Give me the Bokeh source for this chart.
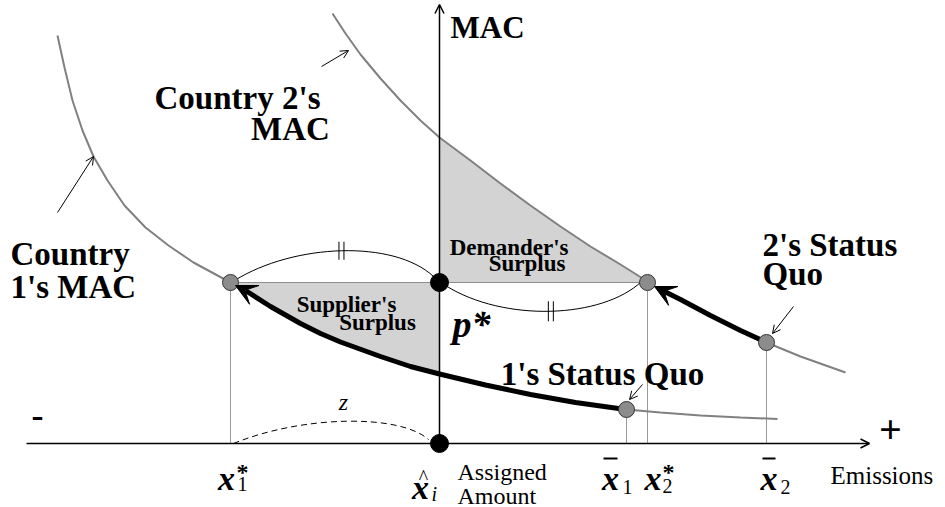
import numpy as np
from bokeh.plotting import figure
from bokeh.models import Range1d, Arrow, VeeHead, OpenHead
from bokeh.embed import file_html
from bokeh.resources import INLINE
from bokeh.core.properties import value

# ---- Key positions on the emissions axis (origin = assigned amount) and price ----
x1_star = -209
x_hat = 0
x1_bar = 187
x2_star = 208
x2_bar = 327
p_star = 161
mac1_at_x1_bar = 34
mac2_at_x2_bar = 101

# ---- Country 1's MAC ----
mac1_upper_x = [-382, -375, -367, -357, -346, -332, -315, -294, -271, -246, -209]
mac1_upper_y = [408, 376, 343, 313, 287, 263, 238, 216, 198, 181, 161]
mac1_lower_x = [187, 221, 261, 301, 338]
mac1_lower_y = [34, 31, 28, 26, 24.5]
# thick move from 1's status quo to x1*
path1_x = [187, 179, 136, 91, 46, 0, -29, -59, -99, -119, -139, -169, -194]
path1_y = [34, 35, 41, 49, 58.5, 69.5, 77, 87, 101.5, 110, 120, 137, 153]
tip1 = (-204, 158)

# ---- Country 2's MAC ----
mac2_upper_x = [-107, -94, -79, -59, -39, -19, 0, 31, 61, 91, 121, 151, 181, 208]
mac2_upper_y = [430, 410, 389, 365, 343, 323, 306, 283, 260, 238, 217, 197, 179, 162]
mac2_lower_x = [327, 361, 406]
mac2_lower_y = [101, 87, 71]
path2_x = [327, 301, 271, 241, 223]
path2_y = [101, 113, 128, 144, 153]
tip2 = (215, 157)

FONT = "Liberation Serif"
GREY = "#808080"
SHADE = "#d3d3d3"

p = figure(width=945, height=507, x_range=Range1d(-439, 506), y_range=Range1d(-64, 443),
           output_backend="svg", toolbar_location=None, min_border=0,
           x_axis_type=None, y_axis_type=None)
p.grid.visible = False
p.outline_line_color = None
p.background_fill_color = "white"

# ---- shaded surpluses ----
dm = [i for i, x in enumerate(mac2_upper_x) if x_hat <= x <= x2_star]
dem_x = [x_hat] + [mac2_upper_x[i] for i in dm] + [x2_star]
dem_y = [p_star] + [mac2_upper_y[i] for i in dm] + [p_star]
p.patch(dem_x, dem_y, fill_color=SHADE, line_color=None)

sp = [i for i, x in enumerate(path1_x) if x <= x_hat]
sup_x = [x1_star, x_hat] + [path1_x[i] for i in sp] + [tip1[0]]
sup_y = [p_star, p_star] + [path1_y[i] for i in sp] + [tip1[1]]
p.patch(sup_x, sup_y, fill_color=SHADE, line_color=None)

# ---- dotted guides ----
dot = dict(line_color="#333333", line_width=1, line_dash="1 1")
p.line([x1_star, x2_star], [p_star, p_star], **dot)
for xv, yv in [(x1_star, p_star), (x1_bar, mac1_at_x1_bar), (x2_star, p_star), (x2_bar, mac2_at_x2_bar)]:
    p.line([xv, xv], [0, yv], **dot)

# ---- MAC curves ----
p.line(mac1_upper_x, mac1_upper_y, line_color=GREY, line_width=2)
p.line(mac1_lower_x, mac1_lower_y, line_color=GREY, line_width=2)
p.line(mac2_upper_x, mac2_upper_y, line_color=GREY, line_width=2)
p.line(mac2_lower_x, mac2_lower_y, line_color=GREY, line_width=2)

# ---- equal-distance arcs ----
def cubic(x0, y0, x1, y1, h, a=0.3, b=0.8):
    w = x1 - x0
    p.bezier(x0=[x0], y0=[y0], x1=[x1], y1=[y1], cx0=[x0 + a * w], cy0=[y0 + h],
             cx1=[x0 + b * w], cy1=[y1 + h], line_color="black", line_width=1)
    mx = (x0 + 3 * (x0 + a * w) + 3 * (x0 + b * w) + x1) / 8
    my = (y0 + 3 * (y0 + h) + 3 * (y1 + h) + y1) / 8
    return mx, my

mx, my = cubic(x1_star + 4, p_star + 2, x_hat - 6, p_star + 6, 37)
for d in (-2.5, 2.5):
    p.line([mx + d, mx + d], [my - 9, my + 9], line_color="black", line_width=1)
mx, my = cubic(x_hat + 6, p_star - 3, x2_star - 6, p_star + 1, -37)
for d in (-2.5, 2.5):
    p.line([mx + d, mx + d], [my - 10, my + 10], line_color="black", line_width=1)

# dashed z arc
p.bezier(x0=[x1_star + 3], y0=[0], x1=[x_hat - 11], y1=[4], cx0=[x1_star + 3 + 0.35 * 195], cy0=[28],
         cx1=[x1_star + 3 + 0.85 * 195], cy1=[30], line_color="black", line_width=1, line_dash="6 4")

# ---- thick movement arrows ----
p.line(path1_x, path1_y, line_color="black", line_width=5, line_join="round")
p.add_layout(Arrow(end=VeeHead(size=21, fill_color="black", line_color="black", line_width=1),
                   x_start=path1_x[-1], y_start=path1_y[-1], x_end=tip1[0], y_end=tip1[1],
                   line_alpha=0))
p.line(path2_x, path2_y, line_color="black", line_width=5, line_join="round")
p.add_layout(Arrow(end=VeeHead(size=21, fill_color="black", line_color="black", line_width=1),
                   x_start=path2_x[-1], y_start=path2_y[-1], x_end=tip2[0], y_end=tip2[1],
                   line_alpha=0))

# ---- axes ----
p.add_layout(Arrow(end=OpenHead(size=9, line_width=1.5), x_start=-413, y_start=0, x_end=430, y_end=0,
                   line_width=1.5))
p.add_layout(Arrow(end=OpenHead(size=9, line_width=1.5), x_start=0, y_start=0, x_end=0, y_end=439,
                   line_width=1.5))

# ---- pointer arrows ----
for (xs, ys, xe, ye) in [(-118, 377, -91, 393), (-382, 231, -346, 287),
                         (354, 137, 333, 110), (203, 59, 190, 44)]:
    p.add_layout(Arrow(end=OpenHead(size=8, line_width=1), x_start=xs, y_start=ys, x_end=xe, y_end=ye,
                       line_width=1))

# ---- points ----
p.scatter([x1_star, x2_star, x1_bar, x2_bar], [p_star, p_star, mac1_at_x1_bar, mac2_at_x2_bar],
          size=16, fill_color="#8c8c8c", line_color="#333333", line_width=1)
p.scatter([x_hat, x_hat], [p_star, 0], size=18, fill_color="black", line_color="black")

# ---- text ----
def txt(x, y, s, size, style="bold", align="left", baseline="alphabetic"):
    p.text(x=[x], y=[y], text=[s], text_font=value(FONT), text_font_size=f"{size}px",
           text_font_style=style, text_align=align, text_baseline=baseline, text_color="black")

txt(11, 416, "MAC", 31)
txt(-202, 346, "Country 2's", 33, align="center")
txt(-149, 315, "MAC", 33, align="center")
txt(-429, 190, "Country", 33)
txt(-429, 157, "1's MAC", 33)
txt(323, 199, "2's Status", 33)
txt(323, 170, "Quo", 33)
txt(163, 70, "1's Status Quo", 33, align="center")
txt(129, 196, "Demander's", 23, align="right")
txt(126, 180, "Surplus", 23, align="right")
txt(-93, 139, "Supplier's", 23, align="center")
txt(-62, 121, "Surplus", 23, align="center")
txt(13, 120, "p*", 38, style="bold italic")
txt(-96, 42, "z", 24, style="italic", align="center")
txt(-402, 29, "-", 36, align="center")
txt(451, 14, "+", 40, align="center")
txt(18, -28, "Assigned", 24, style="normal")
txt(18, -52, "Amount", 24, style="normal")
txt(391, -32, "Emissions", 25, style="normal")

# tick labels
txt(x1_star - 4, -35, "x", 34, style="bold italic", align="center")
txt(x1_star + 6, -28, "*", 24)
txt(x1_star + 7, -40, "1", 20, style="normal")

txt(x_hat - 19, -44, "x", 34, style="bold italic", align="center")
txt(x_hat - 16, -33.5, "^", 20, style="normal", align="center")
txt(x_hat - 8, -50, "i", 20, style="italic")

txt(x1_bar - 16, -35, "x", 34, style="bold italic", align="center")
p.line([x1_bar - 23, x1_bar - 9], [-15, -15], line_color="black", line_width=2)
txt(x1_bar - 4, -43, "1", 20, style="normal")

txt(x2_star + 5.5, -35, "x", 34, style="bold italic", align="center")
txt(x2_star + 15, -28, "*", 24)
txt(x2_star + 15, -42, "2", 20, style="normal")

txt(x2_bar + 2.5, -35, "x", 34, style="bold italic", align="center")
p.line([x2_bar - 4, x2_bar + 9], [-15, -15], line_color="black", line_width=2)
txt(x2_bar + 14, -43, "2", 20, style="normal")

open("out.html", "w").write(file_html(p, INLINE))
